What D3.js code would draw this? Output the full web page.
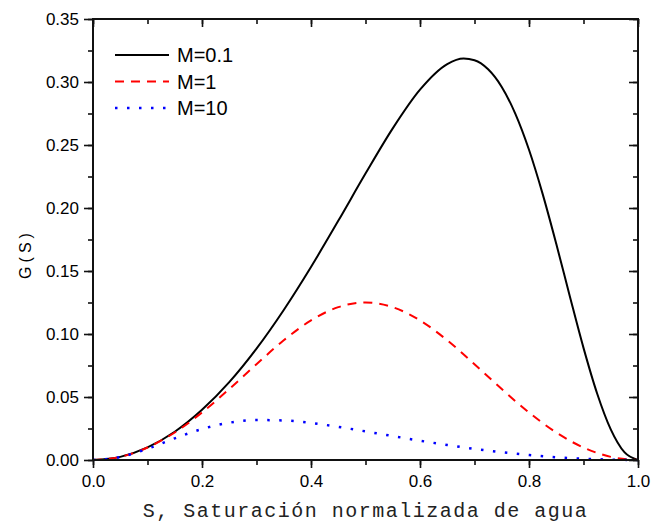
<!DOCTYPE html>
<html>
<head>
<meta charset="utf-8">
<script src="https://cdn.jsdelivr.net/npm/d3@7"></script>
<style>
  body { margin: 0; background: #fff; }
  svg { display: block; }
</style>
</head>
<body>
<div id="chart"></div>
<script>
// Values
const sCoarse = [0, 0.05, 0.1, 0.15, 0.2, 0.25, 0.3, 0.35, 0.4, 0.45, 0.5,
                 0.55, 0.6, 0.65, 0.7, 0.75, 0.8, 0.85, 0.9, 0.95, 1.0];
const gM1 = [0, 0.0025, 0.0099, 0.0218, 0.0377, 0.0563, 0.0760, 0.0950, 0.1108, 0.1213, 0.125,
             0.1213, 0.1108, 0.0950, 0.0760, 0.0563, 0.0377, 0.0218, 0.0099, 0.0025, 0];
const gM10 = [0, 0.0024, 0.0089, 0.0172, 0.0246, 0.0296, 0.0317, 0.0314, 0.0294, 0.0263, 0.0227,
              0.0190, 0.0153, 0.0119, 0.0088, 0.0062, 0.0040, 0.0022, 0.0010, 0.0003, 0];

const sFine = [0, 0.05, 0.1, 0.15, 0.2, 0.25, 0.3, 0.35, 0.4, 0.45, 0.5, 0.55, 0.6, 0.65,
               0.68, 0.7, 0.725, 0.75, 0.775, 0.8, 0.825, 0.85, 0.875, 0.9, 0.925, 0.95, 0.975, 1.0];
const gM01 = [0, 0.0025, 0.0100, 0.0224, 0.0398, 0.0618, 0.0884, 0.1191, 0.1532, 0.1898, 0.2273,
              0.2632, 0.2939, 0.3142, 0.3186, 0.3173, 0.3101, 0.2961, 0.2747, 0.2462, 0.2112,
              0.1716, 0.1298, 0.0890, 0.0528, 0.0243, 0.0062, 0];

const seriesNames = ["M=0.1", "M=1", "M=10"];
const xTicks = [0, 0.2, 0.4, 0.6, 0.8, 1.0];
const yTicks = [0, 0.05, 0.1, 0.15, 0.2, 0.25, 0.3, 0.35];

const series = [
  { name: seriesNames[0], pts: sFine.map((s, i) => [s, gM01[i]]), color: "#000", dash: null, w: 2 },
  { name: seriesNames[1], pts: sCoarse.map((s, i) => [s, gM1[i]]), color: "#ff0000", dash: "9,7", w: 2 },
  { name: seriesNames[2], pts: sCoarse.map((s, i) => [s, gM10[i]]), color: "#0000ff", dash: "2.5,9.5", w: 2.5 }
];

const W = 652, H = 527;
const margin = { top: 19, right: 14, bottom: 67, left: 93 };
const width = W - margin.left - margin.right;
const height = H - margin.top - margin.bottom;

const svg = d3.select("#chart").append("svg")
    .attr("width", W)
    .attr("height", H);

const g = svg.append("g")
    .attr("transform", `translate(${margin.left},${margin.top})`);

const x = d3.scaleLinear().domain([0, 1]).range([0, width]);
const y = d3.scaleLinear().domain([0, 0.35]).range([height, 0]);

const xMinor = d3.range(0, 1.0001, 0.1);
const yMinor = d3.range(0, 0.3501, 0.025);

// curves
const line = d3.line()
    .x(d => x(d[0]))
    .y(d => y(d[1]))
    .curve(d3.curveMonotoneX);

series.forEach(sr => {
  g.append("path")
      .datum(sr.pts)
      .attr("fill", "none")
      .attr("stroke", sr.color)
      .attr("stroke-width", sr.w)
      .attr("stroke-dasharray", sr.dash)
      .attr("d", line);
});

// axes
const tickFont = g => g.selectAll("text")
    .attr("font-family", "Liberation Sans, Arial, sans-serif")
    .attr("font-size", 17)
    .attr("fill", "#000");

function styleAxis(sel) {
  sel.select(".domain").remove();
  sel.selectAll("line").attr("stroke", "#111").attr("stroke-width", 1.6);
}

// bottom
g.append("g").attr("transform", `translate(0,${height})`)
    .call(d3.axisBottom(x).tickValues(xMinor).tickSize(5).tickFormat(""))
    .call(styleAxis);
g.append("g").attr("transform", `translate(0,${height})`)
    .call(d3.axisBottom(x).tickValues(xTicks).tickSize(8).tickPadding(7).tickFormat(d3.format(".1f")))
    .call(styleAxis).call(tickFont);
// left
g.append("g")
    .call(d3.axisLeft(y).tickValues(yMinor).tickSize(5).tickFormat(""))
    .call(styleAxis);
g.append("g")
    .call(d3.axisLeft(y).tickValues(yTicks).tickSize(9).tickPadding(5).tickFormat(d3.format(".2f")))
    .call(styleAxis).call(tickFont);
// top (inward)
g.append("g")
    .call(d3.axisTop(x).tickValues(xMinor).tickSize(-5).tickFormat(""))
    .call(styleAxis);
g.append("g")
    .call(d3.axisTop(x).tickValues(xTicks).tickSize(-8).tickFormat(""))
    .call(styleAxis);
// right (inward)
g.append("g").attr("transform", `translate(${width},0)`)
    .call(d3.axisRight(y).tickValues(yMinor).tickSize(-5).tickFormat(""))
    .call(styleAxis);
g.append("g").attr("transform", `translate(${width},0)`)
    .call(d3.axisRight(y).tickValues(yTicks).tickSize(-9).tickFormat(""))
    .call(styleAxis);

// frame
g.append("rect")
    .attr("width", width)
    .attr("height", height)
    .attr("fill", "none")
    .attr("stroke", "#111")
    .attr("stroke-width", 2);

// axis titles
svg.append("text")
    .attr("x", margin.left + width / 2)
    .attr("y", 517)
    .attr("text-anchor", "middle")
    .attr("font-family", "Liberation Mono, Courier New, monospace")
    .attr("font-size", 20)
    .attr("letter-spacing", 1.5)
    .attr("fill", "#222")
    .text("S, Saturación normalizada de agua");

svg.append("text")
    .attr("transform", "translate(31,254) rotate(-90)")
    .attr("text-anchor", "middle")
    .attr("font-family", "Liberation Sans, Arial, sans-serif")
    .attr("font-size", 16)
    .attr("letter-spacing", 4)
    .attr("fill", "#000")
    .text("G(S)");

// legend
const legend = g.append("g").attr("transform", "translate(22,36)");
series.forEach((sr, i) => {
  const row = legend.append("g").attr("transform", `translate(0,${i * 26.5})`);
  row.append("line")
      .attr("x1", 0).attr("x2", 54)
      .attr("stroke", sr.color)
      .attr("stroke-width", sr.w)
      .attr("stroke-dasharray", sr.dash);
  row.append("text")
      .attr("x", 62)
      .attr("y", 7)
      .attr("font-family", "Liberation Sans, Arial, sans-serif")
      .attr("font-size", 20)
      .attr("fill", "#000")
      .text(sr.name);
});
</script>
</body>
</html>
